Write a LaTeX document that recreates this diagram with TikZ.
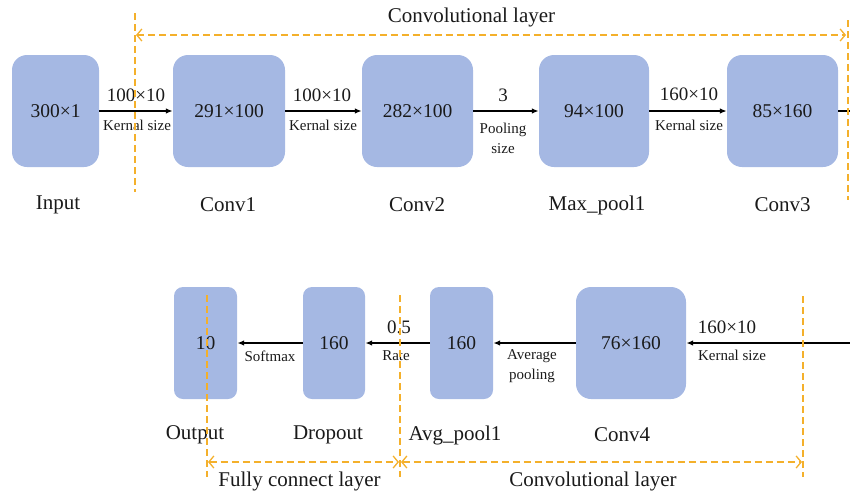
\documentclass[tikz,border=0pt]{standalone}
\usepackage{fontspec}
\setmainfont{Liberation Serif}
\usetikzlibrary{arrows.meta}
\definecolor{boxblue}{HTML}{A5B8E3}
\definecolor{dashorange}{HTML}{F4B02B}
\definecolor{txt}{HTML}{1A1A1A}
\tikzset{
  blk/.style={fill=boxblue, draw=none, rounded corners=15pt, inner sep=0pt, text=txt, font=\fontsize{19.5}{21}\selectfont},
  blks/.style={blk, rounded corners=9pt},
  lbl/.style={text=txt, font=\fontsize{21}{23}\selectfont, inner sep=0pt},
  toplbl/.style={text=txt, font=\fontsize{19}{21}\selectfont, inner sep=0pt},
  small/.style={text=txt, font=\fontsize{15}{20}\selectfont, inner sep=0pt, align=center},
  conn/.style={line width=1.6pt, -{Latex[length=7pt,width=5.5pt]}},
  plain/.style={line width=1.6pt},
  guide/.style={dashorange, line width=1.3pt, dash pattern=on 7pt off 4pt},
  span/.style={guide, {Straight Barb[length=5pt,width=12pt]}-{Straight Barb[length=5pt,width=12pt]}}
}
\begin{document}
\begin{tikzpicture}[x=1pt,y=-1pt]
\useasboundingbox (0,0) rectangle (850,496);
% top row boxes
\node[blk, minimum width=87pt, minimum height=112pt] (in) at (55.5,111) {300×1};
\node[blk, minimum width=112pt, minimum height=112pt] (c1) at (229,111) {291×100};
\node[blk, minimum width=111pt, minimum height=112pt] (c2) at (417.5,111) {282×100};
\node[blk, minimum width=110pt, minimum height=112pt] (mp) at (594,111) {94×100};
\node[blk, minimum width=111pt, minimum height=112pt] (c3) at (782.5,111) {85×160};
% bottom row boxes
\node[blks, minimum width=63pt, minimum height=112pt] (out) at (205.5,343) {10};
\node[blks, minimum width=62pt, minimum height=112pt] (dp) at (334,343) {160};
\node[blks, minimum width=63pt, minimum height=112pt] (ap) at (461.5,343) {160};
\node[blk, minimum width=110pt, minimum height=112pt] (c4) at (631,343) {76×160};
% names
\node[lbl] (nin) at (58,205) {Input};
\node[lbl] (nc1) at (228,205) {Conv1};
\node[lbl] (nc2) at (417,205) {Conv2};
\node[lbl] (nmp) at (597,205) {Max\_pool1};
\node[lbl] (nc3) at (782.5,205) {Conv3};
\node[lbl] (nout) at (195,435) {Output};
\node[lbl] (ndp) at (328,435) {Dropout};
\node[lbl] (nap) at (455,435) {Avg\_pool1};
\node[lbl] (nc4) at (622,435) {Conv4};
% connectors
\coordinate (rt) at (850,111);
\coordinate (rb) at (850,343);
\draw[conn] (in) -- (c1);
\draw[conn] (c1) -- (c2);
\draw[conn] (c2) -- (mp);
\draw[conn] (mp) -- (c3);
\draw[plain] (c3) -- (rt);
\draw[conn] (rb) -- (c4);
\draw[conn] (c4) -- (ap);
\draw[conn] (ap) -- (dp);
\draw[conn] (dp) -- (out);
% connector labels
\node[toplbl] (k1) at (136,95) {100×10};
\node[small] (k1s) at (137,125) {Kernal size};
\node[toplbl] (k2) at (322,95) {100×10};
\node[small] (k2s) at (323,125) {Kernal size};
\node[toplbl] (k3) at (503,95) {3};
\node[small] (k3s) at (503,138) {Pooling\\size};
\node[toplbl] (k4) at (689,94) {160×10};
\node[small] (k4s) at (689,125) {Kernal size};
\node[toplbl] (k5) at (727,327) {160×10};
\node[small] (k5s) at (732,355) {Kernal size};
\node[small] (k6s) at (532,366) {Average\\pooling};
\node[toplbl] (k7) at (399,327) {0.5};
\node[small] (k7s) at (396,356) {Rate};
\node[small] (k8s) at (270,356) {Softmax};
% layer guides
\coordinate (tl) at (135,13); \coordinate (tlb) at (135,192);
\coordinate (tr) at (848,20); \coordinate (trb) at (848,200);
\draw[guide] (tl) -- (tlb);
\draw[guide] (tr) -- (trb);
\coordinate (ta) at (136,35); \coordinate (tb) at (846,35);
\draw[span] (ta) -- (tb);
\node[lbl] (tt) at (471.5,17) {Convolutional layer};
\coordinate (b1) at (207,295); \coordinate (b1b) at (207,477);
\coordinate (b2) at (400,295); \coordinate (b2b) at (400,477);
\coordinate (b3) at (803,296); \coordinate (b3b) at (803,477);
\draw[guide] (b1) -- (b1b);
\draw[guide] (b2) -- (b2b);
\draw[guide] (b3) -- (b3b);
\coordinate (h1) at (208,462); \coordinate (h2) at (399,462);
\coordinate (h3) at (401,462); \coordinate (h4) at (802,462);
\draw[span] (h1) -- (h2);
\draw[span] (h3) -- (h4);
\node[lbl] (bt1) at (299.5,481) {Fully connect layer};
\node[lbl] (bt2) at (593,481) {Convolutional layer};
\end{tikzpicture}
\end{document}
